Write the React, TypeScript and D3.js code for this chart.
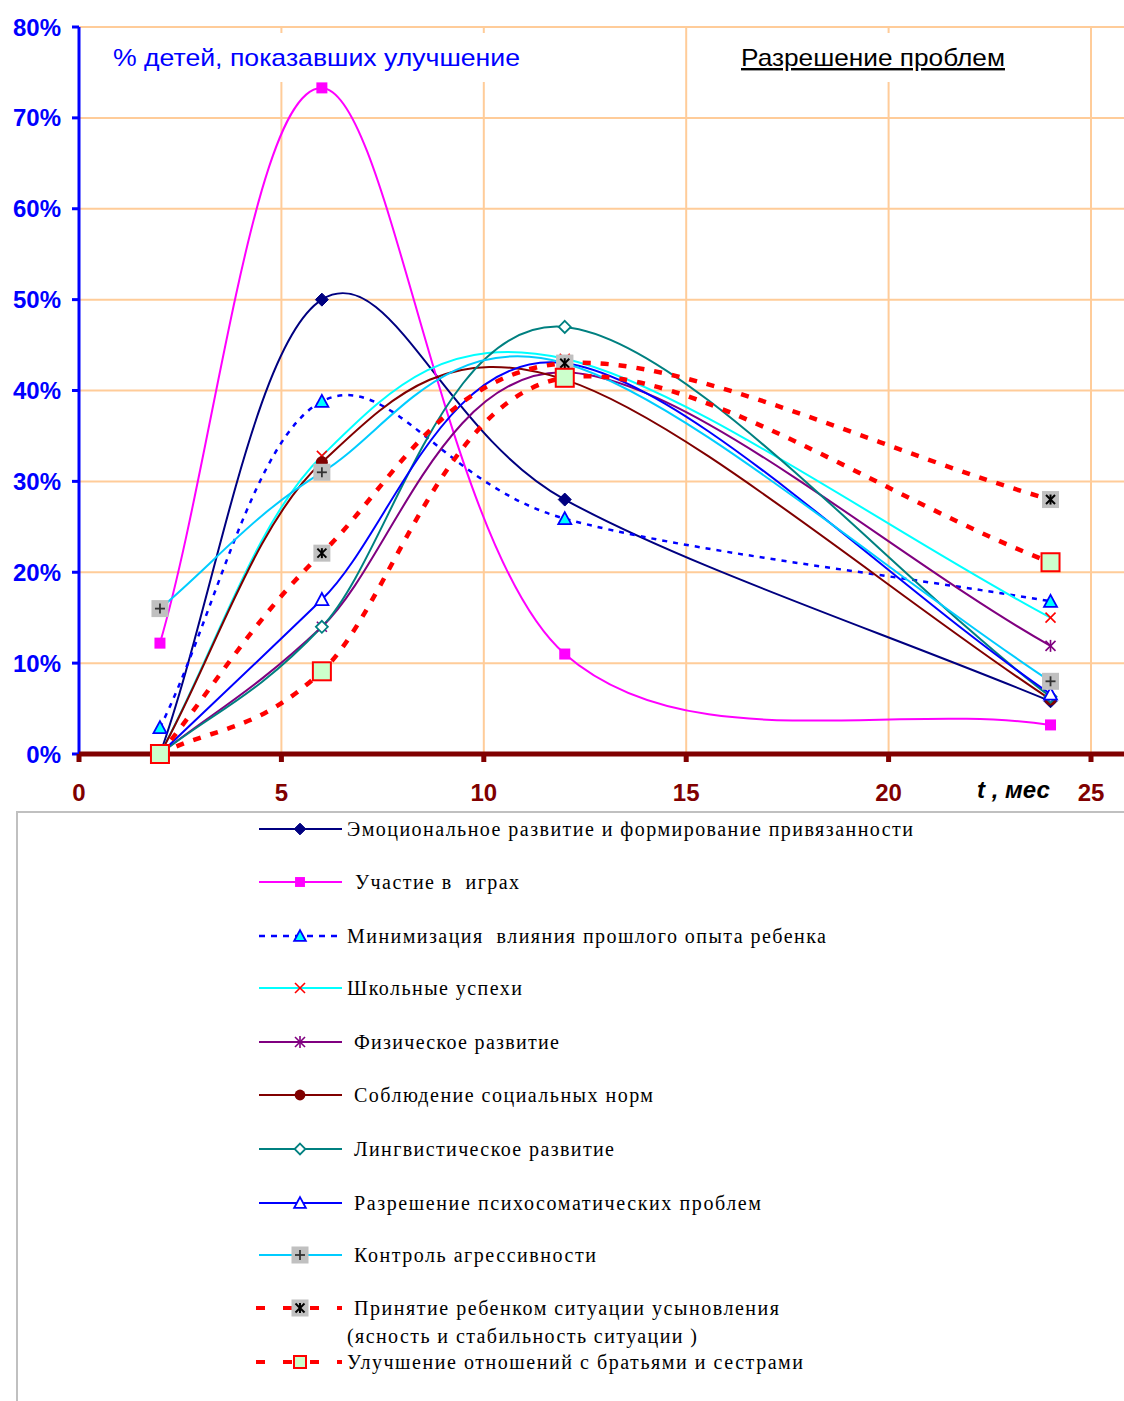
import React from "react";
import * as d3 from "d3";

// ---- data ----
const months = [2, 6, 12, 24];
const sEmotional = [0, 50, 28, 5.8];
const sPlay = [12.2, 73.3, 11, 3.2];
const sPast = [2.9, 38.8, 25.9, 16.8];
const sSchool = [0, 32.8, 43.5, 15];
const sPhysical = [0, 14, 42, 11.9];
const sSocial = [0, 32.1, 41.2, 6];
const sLinguistic = [0, 14, 47, 6.3];
const sPsycho = [0, 17, 43, 6.6];
const sAggression = [16, 31, 43, 8];
const sAcceptance = [0, 22.1, 43, 28];
const sSiblings = [0, 9.1, 41.4, 21.1];

const seriesNames = [
  "Эмоциональное развитие и формирование привязанности",
  "Участие в  играх",
  "Минимизация  влияния прошлого опыта ребенка",
  "Школьные успехи",
  "Физическое развитие",
  "Соблюдение социальных норм",
  "Лингвистическое развитие",
  "Разрешение психосоматических проблем",
  "Контроль агрессивности",
  "Принятие ребенком ситуации усыновления",
  "Улучшение отношений с братьями и сестрами",
];
const acceptanceSecondLine = "(ясность и стабильность ситуации )";
const seriesValues = [
  sEmotional, sPlay, sPast, sSchool, sPhysical, sSocial,
  sLinguistic, sPsycho, sAggression, sAcceptance, sSiblings,
];
const yTicks = [0, 10, 20, 30, 40, 50, 60, 70, 80];
const xTicks = [0, 5, 10, 15, 20, 25];
const chartTitle = "% детей, показавших улучшение";
const chartSubtitle = "Разрешение проблем";
const xAxisTitle = "t , мес";

// ---- styles ----
type Marker =
  | "diamond" | "square" | "triangleFill" | "x" | "asterisk" | "circle"
  | "diamondOpen" | "triangleOpen" | "grayPlus" | "grayStar" | "greenSquare";

const styles: { color: string; width: number; dash?: string; marker: Marker }[] = [
  { color: "#000080", width: 2, marker: "diamond" },
  { color: "#FF00FF", width: 2, marker: "square" },
  { color: "#0000FF", width: 2.5, dash: "5 6", marker: "triangleFill" },
  { color: "#00FFFF", width: 2, marker: "x" },
  { color: "#800080", width: 2, marker: "asterisk" },
  { color: "#800000", width: 2, marker: "circle" },
  { color: "#008080", width: 2, marker: "diamondOpen" },
  { color: "#0000FF", width: 2, marker: "triangleOpen" },
  { color: "#00CCFF", width: 2, marker: "grayPlus" },
  { color: "#FF0000", width: 4.5, dash: "8 10", marker: "grayStar" },
  { color: "#FF0000", width: 4.5, dash: "8 10", marker: "greenSquare" },
];

const legendRows = [829, 882, 936, 988, 1042, 1095, 1149, 1203, 1255, 1308, 1362];
const legendTextX = [347, 355, 347, 347, 354, 354, 354, 354, 354, 354, 347];
const legendTextW = [566, 164, 479, 175, 205, 299, 260, 407, 242, 425, 456];

// Excel-like smoothed line: cubic Bezier with 1/6 tangents, reflected end points
function smoothPath(pts: [number, number][]): string {
  const p = d3.path();
  const n = pts.length;
  if (n === 0) return "";
  const first = pts[0];
  const last = pts[n - 1];
  const ext: [number, number][] = [
    [2 * first[0] - pts[1][0], 2 * first[1] - pts[1][1]],
    ...pts,
    [2 * last[0] - pts[n - 2][0], 2 * last[1] - pts[n - 2][1]],
  ];
  p.moveTo(first[0], first[1]);
  for (let i = 0; i < n - 1; i++) {
    const a = ext[i], b = ext[i + 1], c = ext[i + 2], d = ext[i + 3];
    p.bezierCurveTo(
      b[0] + (c[0] - a[0]) / 6,
      b[1] + (c[1] - a[1]) / 6,
      c[0] - (d[0] - b[0]) / 6,
      c[1] - (d[1] - b[1]) / 6,
      c[0],
      c[1]
    );
  }
  return p.toString();
}

function MarkerShape({ type, x, y, legend }: { type: Marker; x: number; y: number; legend?: boolean }) {
  const s = legend ? 0.9 : 1;
  switch (type) {
    case "diamond": {
      const r = 6.5 * s;
      return <path d={`M${x},${y - r}L${x + r},${y}L${x},${y + r}L${x - r},${y}Z`} fill="#000080" stroke="#000080" strokeWidth={1} />;
    }
    case "square": {
      const r = 5.5 * s;
      return <rect x={x - r} y={y - r} width={2 * r} height={2 * r} fill="#FF00FF" />;
    }
    case "triangleFill":
    case "triangleOpen": {
      const r = 6.5 * s;
      return (
        <path
          d={`M${x},${y - r}L${x + r},${y + r * 0.85}L${x - r},${y + r * 0.85}Z`}
          fill={type === "triangleFill" ? "#00FFFF" : "#FFFFFF"}
          stroke="#0000FF"
          strokeWidth={1.8}
        />
      );
    }
    case "x": {
      const r = 5;
      return (
        <g stroke="#FF0000" strokeWidth={1.6}>
          <line x1={x - r} y1={y - r} x2={x + r} y2={y + r} />
          <line x1={x - r} y1={y + r} x2={x + r} y2={y - r} />
        </g>
      );
    }
    case "asterisk": {
      const r = 5;
      return (
        <g stroke="#800080" strokeWidth={1.6}>
          <line x1={x - r} y1={y - r} x2={x + r} y2={y + r} />
          <line x1={x - r} y1={y + r} x2={x + r} y2={y - r} />
          <line x1={x} y1={y - r - 1} x2={x} y2={y + r + 1} />
        </g>
      );
    }
    case "circle":
      return <circle cx={x} cy={y} r={6 * s} fill="#800000" />;
    case "diamondOpen": {
      const r = 6 * s;
      return <path d={`M${x},${y - r}L${x + r},${y}L${x},${y + r}L${x - r},${y}Z`} fill="#FFFFFF" stroke="#008080" strokeWidth={1.8} />;
    }
    case "grayPlus": {
      const r = 8.5;
      return (
        <g>
          <rect x={x - r} y={y - r} width={2 * r} height={2 * r} fill="#C0C0C0" />
          <g stroke="#333333" strokeWidth={1.8}>
            <line x1={x - 5} y1={y} x2={x + 5} y2={y} />
            <line x1={x} y1={y - 5} x2={x} y2={y + 5} />
          </g>
        </g>
      );
    }
    case "grayStar": {
      const r = 8.5;
      return (
        <g>
          <rect x={x - r} y={y - r} width={2 * r} height={2 * r} fill="#C0C0C0" />
          <g stroke="#000000" strokeWidth={2}>
            <line x1={x - 4.5} y1={y - 4.5} x2={x + 4.5} y2={y + 4.5} />
            <line x1={x - 4.5} y1={y + 4.5} x2={x + 4.5} y2={y - 4.5} />
            <line x1={x} y1={y - 5} x2={x} y2={y + 5} />
          </g>
        </g>
      );
    }
    case "greenSquare": {
      const r = legend ? 6 : 9;
      return <rect x={x - r} y={y - r} width={2 * r} height={2 * r} fill="#CCFFCC" stroke="#FF0000" strokeWidth={2} />;
    }
  }
  return null;
}

export default function App() {
  const W = 1124;
  const H = 1401;
  const x = d3.scaleLinear().domain([0, 25]).range([79, 1091]);
  const y = d3.scaleLinear().domain([0, 80]).range([754, 27]);
  const plotRight = W;

  return (
    <svg
      width={W}
      height={H}
      style={{ position: "absolute", left: 0, top: 0, background: "#fff" }}
      xmlns="http://www.w3.org/2000/svg"
    >
      <rect x={0} y={0} width={W} height={H} fill="#FFFFFF" />
      {/* gridlines */}
      {yTicks.slice(1).map((t) => (
        <line key={"gy" + t} x1={x(0)} x2={plotRight} y1={y(t)} y2={y(t)} stroke="#FFCC99" strokeWidth={2} />
      ))}
      {xTicks.slice(1).map((t) => (
        <line key={"gx" + t} x1={x(t)} x2={x(t)} y1={y(80)} y2={y(0)} stroke="#FFCC99" strokeWidth={2} />
      ))}

      {/* titles with white background */}
      <rect x={108} y={33} width={418} height={49} fill="#FFFFFF" />
      <text x={113} y={66} fontFamily="'Liberation Sans', Arial, sans-serif" fontSize={24} fill="#0000FF" textLength={407} lengthAdjust="spacingAndGlyphs">
        {chartTitle}
      </text>
      <rect x={736} y={33} width={275} height={49} fill="#FFFFFF" />
      <text x={741} y={66} fontFamily="'Liberation Sans', Arial, sans-serif" fontSize={24} fill="#000000" textDecoration="underline" textLength={264} lengthAdjust="spacingAndGlyphs">
        {chartSubtitle}
      </text>

      {/* series lines */}
      {seriesValues.map((vals, i) => {
        const pts = months.map((m, j) => [x(m), y(vals[j])] as [number, number]);
        const st = styles[i];
        return (
          <path
            key={"l" + i}
            d={smoothPath(pts)}
            fill="none"
            stroke={st.color}
            strokeWidth={st.width}
            strokeDasharray={st.dash}
            strokeLinejoin="round"
          />
        );
      })}

      {/* axes */}
      <line x1={x(0)} x2={x(0)} y1={y(80)} y2={y(0) + 3} stroke="#0000FF" strokeWidth={3} />
      {yTicks.map((t) => (
        <g key={"yt" + t}>
          <line x1={x(0) - 7} x2={x(0)} y1={y(t)} y2={y(t)} stroke="#0000FF" strokeWidth={3} />
          <text
            x={61}
            y={y(t)}
            textAnchor="end"
            dominantBaseline="central"
            fontFamily="'Liberation Sans', Arial, sans-serif"
            fontWeight="bold"
            fontSize={24}
            fill="#0000FF"
          >
            {t + "%"}
          </text>
        </g>
      ))}
      <line x1={x(0)} x2={W} y1={y(0)} y2={y(0)} stroke="#800000" strokeWidth={5} />
      {xTicks.map((t) => (
        <g key={"xt" + t}>
          <line x1={x(t)} x2={x(t)} y1={y(0)} y2={y(0) + 8} stroke="#800000" strokeWidth={5} />
          <text
            x={x(t)}
            y={792}
            textAnchor="middle"
            dominantBaseline="central"
            fontFamily="'Liberation Sans', Arial, sans-serif"
            fontWeight="bold"
            fontSize={24}
            fill="#800000"
          >
            {t}
          </text>
        </g>
      ))}
      <text
        x={977}
        y={789}
        dominantBaseline="central"
        fontFamily="'Liberation Sans', Arial, sans-serif"
        fontWeight="bold"
        fontStyle="italic"
        fontSize={24}
        fill="#000000"
      >
        {xAxisTitle}
      </text>

      {/* markers */}
      {seriesValues.map((vals, i) => (
        <g key={"m" + i}>
          {months.map((m, j) => (
            <MarkerShape key={j} type={styles[i].marker} x={x(m)} y={y(vals[j])} />
          ))}
        </g>
      ))}

      {/* legend */}
      <rect x={17} y={812} width={W + 20} height={H} fill="#FFFFFF" stroke="#C0C0C0" strokeWidth={2} />
      {seriesNames.map((name, i) => {
        const st = styles[i];
        const cy = legendRows[i];
        return (
          <g key={"lg" + i}>
            <line
              x1={st.width > 3 ? 256 : 259}
              x2={342}
              y1={cy}
              y2={cy}
              stroke={st.color}
              strokeWidth={st.width > 3 ? 4 : st.width}
              strokeDasharray={st.dash ? (st.width > 3 ? "9 18" : "6 6") : undefined}
            />
            <MarkerShape type={st.marker} x={300} y={cy} legend />
            <text
              x={legendTextX[i]}
              y={cy + 7}
              fontFamily="'Liberation Serif', 'Times New Roman', serif"
              fontSize={20}
              fill="#000000"
              textLength={legendTextW[i]}
              lengthAdjust="spacing"
              style={{ whiteSpace: "pre" }}
            >
              {name}
            </text>
          </g>
        );
      })}
      <text
        x={347}
        y={1336 + 7}
        fontFamily="'Liberation Serif', 'Times New Roman', serif"
        fontSize={20}
        fill="#000000"
        textLength={350}
        lengthAdjust="spacing"
      >
        {acceptanceSecondLine}
      </text>
    </svg>
  );
}
